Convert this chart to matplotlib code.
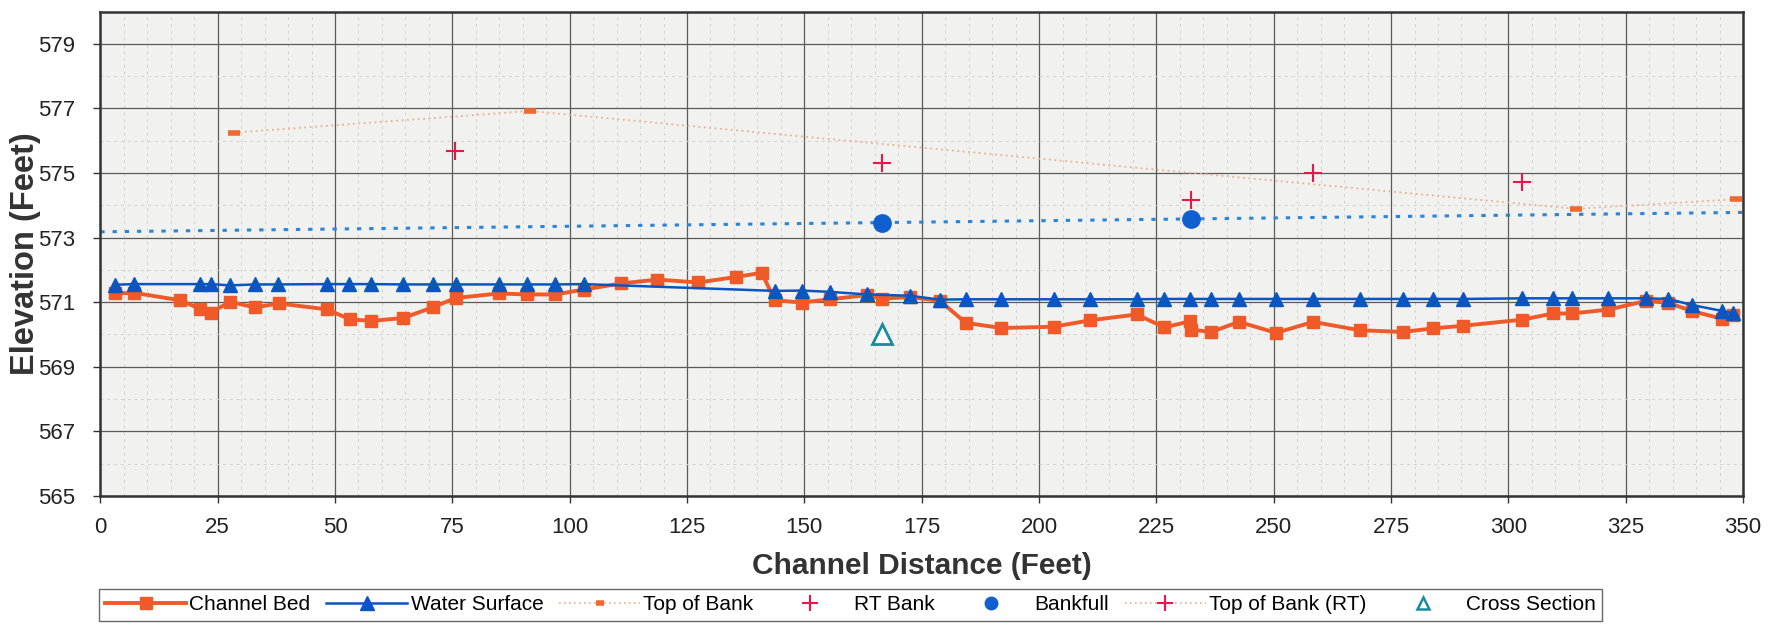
import matplotlib
matplotlib.use("Agg")
import matplotlib.pyplot as plt
from matplotlib.ticker import MultipleLocator
from matplotlib.lines import Line2D

# channel bed profile
bed_x = [3.1, 7.2, 17.0, 21.2, 23.6, 27.6, 32.9, 38.1, 48.2, 53.2, 57.7, 64.5, 70.8, 75.7,
         84.9, 90.8, 96.9, 103.0, 110.9, 118.7, 127.4, 135.4, 140.9, 143.7, 149.4, 155.5,
         163.3, 166.5, 172.5, 178.9, 184.4, 192.0, 203.1, 210.9, 220.8, 226.7, 232.2, 232.4,
         236.7, 242.6, 250.5, 258.4, 268.4, 277.6, 284.0, 290.4, 303.0, 309.5, 313.5, 321.3,
         329.3, 334.1, 339.2, 345.5, 347.8]
bed_y = [571.27, 571.29, 571.06, 570.80, 570.68, 571.01, 570.84, 570.96, 570.78, 570.47,
         570.42, 570.51, 570.84, 571.13, 571.27, 571.24, 571.24, 571.39, 571.58, 571.70,
         571.61, 571.78, 571.91, 571.06, 570.99, 571.09, 571.22, 571.11, 571.16, 571.04,
         570.36, 570.20, 570.24, 570.44, 570.62, 570.22, 570.41, 570.15, 570.08, 570.39,
         570.05, 570.39, 570.13, 570.08, 570.19, 570.27, 570.46, 570.65, 570.65, 570.77,
         571.04, 570.98, 570.72, 570.49, 570.60]

# water surface
ws_x = [3.1, 7.2, 21.2, 23.6, 27.6, 32.9, 37.8, 48.2, 53.0, 57.7, 64.5, 70.8, 75.7, 84.9,
        90.8, 96.9, 103.0, 143.7, 149.4, 155.5, 163.3, 172.5, 178.9, 184.4, 192.0, 203.1,
        210.9, 220.8, 226.7, 232.2, 236.7, 242.6, 250.5, 258.4, 268.4, 277.6, 284.0, 290.4,
        303.0, 309.5, 313.5, 321.3, 329.3, 334.1, 339.2, 345.5, 347.8]
ws_y = [571.54, 571.56, 571.56, 571.56, 571.52, 571.55, 571.55, 571.56, 571.56, 571.56,
        571.55, 571.55, 571.55, 571.55, 571.55, 571.55, 571.56, 571.35, 571.36, 571.32,
        571.24, 571.20, 571.08, 571.09, 571.09, 571.09, 571.09, 571.09, 571.10, 571.10,
        571.10, 571.10, 571.10, 571.10, 571.10, 571.10, 571.10, 571.10, 571.12, 571.12,
        571.12, 571.12, 571.12, 571.10, 570.91, 570.73, 570.66]

# banks
tob_x = [28.5, 91.5, 314.4, 348.6]
tob_y = [576.25, 576.92, 573.89, 574.19]
rt_x = [75.6, 166.5, 232.3, 258.4, 302.8]
rt_y = [575.69, 575.30, 574.16, 574.99, 574.73]
bkf_x = [166.5, 232.3]
bkf_y = [573.46, 573.57]
bkf_line_x = [0, 350]
bkf_line_y = [573.18, 573.78]
xs_x = [166.5]
xs_y = [570.0]

c_bed = "#f05a28"
c_ws = "#0a55c0"
c_tob = "#f06a30"
c_tob_line = "#f0ad88"
c_rt = "#e8174a"
c_bkf = "#0f5fd0"
c_xs = "#1a8aa0"

plt.rcParams["font.family"] = ["Liberation Sans", "DejaVu Sans"]

fig = plt.figure(figsize=(17.79, 6.26), dpi=100)
ax = fig.add_axes([0.0564, 0.2077, 0.9234, 0.7739])
ax.set_facecolor("#f1f1ef")

ax.plot(bkf_line_x, bkf_line_y, color="#2a85d8", lw=2.2, ls=(0, (1.4, 2.6)), zorder=2)
ax.plot(tob_x, tob_y, color=c_tob_line, lw=1.3, ls=(0, (1, 2)), zorder=2)
ax.plot(tob_x, tob_y, ls="none", marker="_", ms=8, mew=4, color=c_tob, zorder=3)
ax.plot(rt_x, rt_y, ls="none", marker="+", ms=13, mew=1.5, color=c_rt, zorder=3)
ax.plot(bkf_x, bkf_y, ls="none", marker="o", ms=12.5, color=c_bkf, zorder=3)
ax.plot(bed_x, bed_y, color=c_bed, lw=2.8, marker="s", ms=8.2, zorder=4)
ax.plot(ws_x, ws_y, color=c_ws, lw=1.8, marker="^", ms=9.5, zorder=5)
ax.plot(xs_x, xs_y, ls="none", marker="^", ms=15, mfc="white", mec=c_xs, mew=2, zorder=5)

ax.set_xlim(0, 350)
ax.set_ylim(565, 580)
ax.xaxis.set_major_locator(MultipleLocator(25))
ax.xaxis.set_minor_locator(MultipleLocator(5))
ax.yaxis.set_minor_locator(MultipleLocator(1))
ax.set_yticks(range(565, 581, 2))
ax.grid(which="major", color="#5a5a5a", lw=0.9)
ax.grid(which="minor", color="#d2d2d2", lw=0.7, ls=(0, (3, 4)))
ax.set_axisbelow(True)
ax.tick_params(which="minor", length=0)
ax.tick_params(which="major", length=5, width=1, color="#333333", labelsize=16,
               labelcolor="#222222")
ax.tick_params(axis="x", pad=10)
ax.tick_params(axis="y", pad=13)
for s in ax.spines.values():
    s.set_color("#333333")
    s.set_linewidth(1.8)

ax.set_xlabel("Channel Distance (Feet)", fontsize=21.5, fontweight="bold",
              color="#333333", labelpad=10)
ax.set_ylabel("Elevation (Feet)", fontsize=23.5, fontweight="bold",
              color="#333333", labelpad=-2)

handles = [
    Line2D([], [], color=c_bed, lw=2.8, marker="s", ms=8.2),
    Line2D([], [], color=c_ws, lw=1.8, marker="^", ms=9.5),
    Line2D([], [], color=c_tob_line, lw=1.2, ls=(0, (1, 2)), marker="_", ms=6, mew=4,
           mec=c_tob),
    Line2D([], [], ls="none", marker="+", ms=11, mew=1.5, color=c_rt),
    Line2D([], [], ls="none", marker="o", ms=9, color=c_bkf),
    Line2D([], [], color=c_tob_line, lw=1.2, ls=(0, (1, 2)), marker="+", ms=11, mew=1.5,
           mec=c_rt),
    Line2D([], [], ls="none", marker="^", ms=8, mfc="white", mec=c_xs, mew=1.8),
]
labels = ["Channel Bed", "Water Surface", "Top of Bank", "RT Bank", "Bankfull",
          "Top of Bank (RT)", "Cross Section"]
leg = fig.legend(handles, labels, loc="lower left", bbox_to_anchor=(0.0532, 0.002),
                 ncol=7, fontsize=15, frameon=True, fancybox=False, handlelength=3.9,
                 handletextpad=0.15, columnspacing=0.75, borderpad=0.3, borderaxespad=0.2)
leg.get_frame().set_edgecolor("#444444")
leg.get_frame().set_linewidth(1.0)

fig.savefig("out.png", dpi=100, facecolor="white")
